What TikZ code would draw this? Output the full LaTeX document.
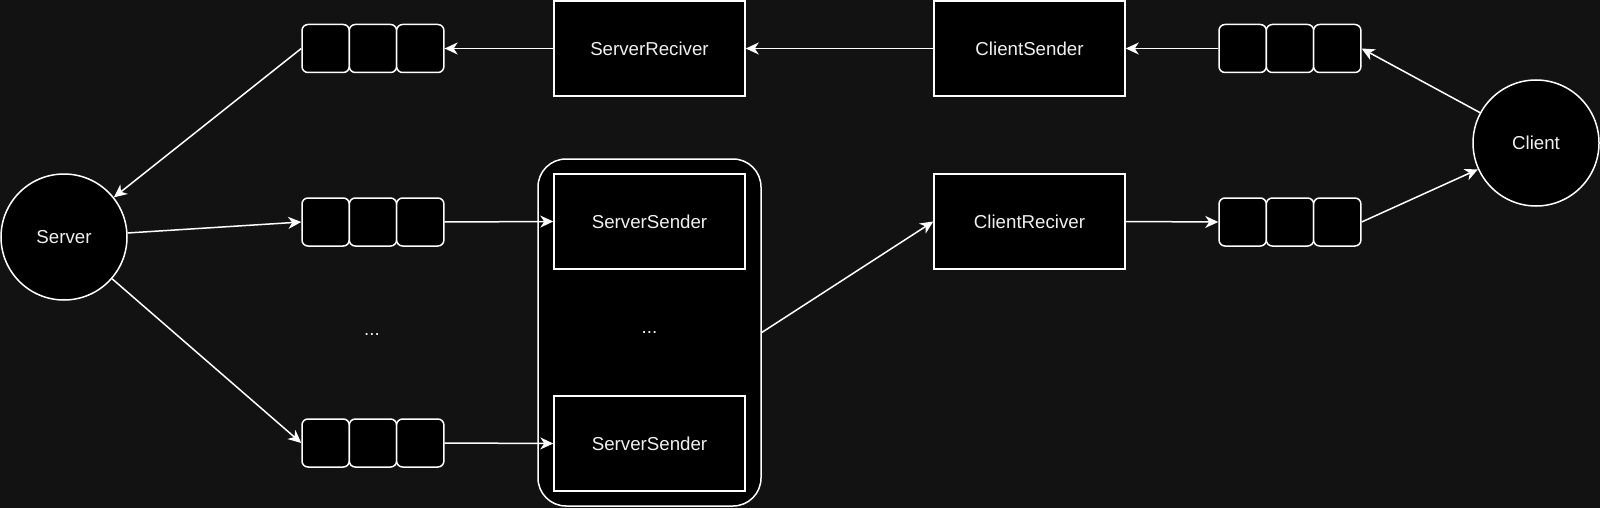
\documentclass[tikz,border=0pt]{standalone}
\usepackage{fontspec}
\setmainfont{Liberation Sans}
\usetikzlibrary{arrows.meta}
\definecolor{bgdark}{HTML}{121212}
\definecolor{txt}{HTML}{F0F0F0}

\newcommand{\msgqueue}[3]{%
  \foreach \k in {1,2,3} {
    \node[cell] (#1\k) at ({#2+23.65+(\k-1)*47.3},#3) {};
  }%
}

\begin{document}
\begin{tikzpicture}[x=1pt,y=-1pt,
    every node/.style={text=txt,font=\fontsize{18.7}{22}\selectfont},
    line/.style={draw=white,line width=1.5pt},
    cell/.style={line,fill=black,rounded corners=6pt,minimum width=47.3pt,minimum height=48pt,inner sep=0pt},
    proc/.style={line,fill=black,minimum width=191pt,minimum height=95pt,inner sep=0pt},
    peer/.style={line,fill=black,circle,minimum size=126pt,inner sep=0pt},
    flow/.style={line,-{Stealth[length=13pt,width=12pt,inset=4pt]}}]
  \fill[bgdark] (0,0) rectangle (1600,508);
  \useasboundingbox (0,0) rectangle (1600,508);

  \node[peer] (server) at (64,237) {Server};
  \node[peer] (client) at (1536,143) {Client};
  \node[proc] (srecv) at (649.5,48.5) {ServerReciver};
  \node[proc] (csend) at (1029.5,48.5) {ClientSender};
  \node[proc] (crecv) at (1029.5,221.5) {ClientReciver};
  \node[line,fill=black,rounded corners=28pt,minimum width=223pt,minimum height=347pt] (senders) at (649.5,332.5) {};
  \node[proc] (ssend1) at (649.5,221.5) {ServerSender};
  \node[proc] (ssend2) at (649.5,443.5) {ServerSender};
  \node (sdots) at (senders.center) {...};
  \node (qdots) at (372,334) {...};

  \msgqueue{qin}{302}{48.5}
  \msgqueue{qout}{1219}{48.5}
  \msgqueue{qa}{302}{222}
  \msgqueue{qb}{302}{443}
  \msgqueue{qret}{1219}{222}

  \draw[flow] (srecv.west) -- (qin3.east);
  \draw[flow] (csend.west) -- (srecv.east);
  \draw[flow] (qout1.west) -- (csend.east);
  \draw[flow] (client) -- (qout3.east);
  \draw[flow] (qin1.west) -- (server);
  \draw[flow] (server) -- (qa1.west);
  \draw[flow] (server) -- (qb1.west);
  \draw[flow] (qa3.east) -- (ssend1.west);
  \draw[flow] (qb3.east) -- (ssend2.west);
  \draw[flow] (senders.east) -- (crecv.west);
  \draw[flow] (crecv.east) -- (qret1.west);
  \draw[flow] (qret3.east) -- (client);
\end{tikzpicture}
\end{document}
